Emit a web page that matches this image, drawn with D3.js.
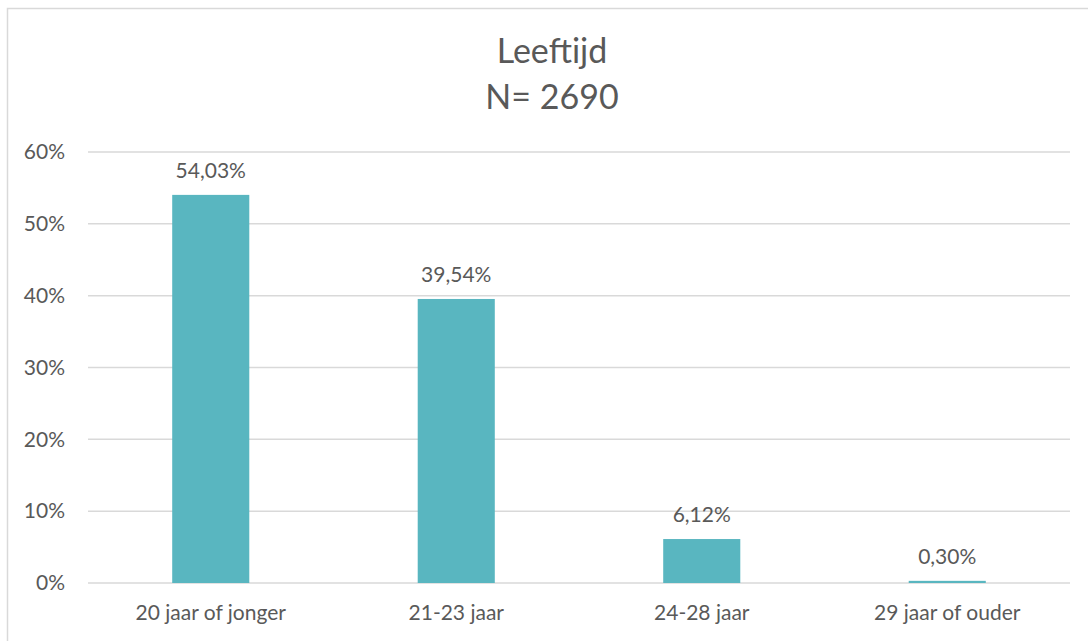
<!DOCTYPE html>
<html><head><meta charset="utf-8">
<script src="https://cdn.jsdelivr.net/npm/d3@7"></script>
<style>
html,body{margin:0;padding:0;background:#fff;}
svg text{font-family:Lato,"Open Sans",sans-serif;fill:#595959;}
</style></head>
<body><svg id="c" width="1088" height="641"></svg>
<script>
const categories = ["20 jaar of jonger","21-23 jaar","24-28 jaar","29 jaar of ouder"];
const values = [54.03, 39.54, 6.12, 0.30];
const valueLabels = ["54,03%","39,54%","6,12%","0,30%"];
const yTicks = [0,10,20,30,40,50,60];
const titleLines = ["Leeftijd","N= 2690"];

const svg = d3.select("#c");
const W=1088,H=641;
svg.append("rect").attr("x",7.5).attr("y",8.5).attr("width",W+20).attr("height",H+20)
  .attr("fill","#fff").attr("stroke","#d9d9d9").attr("stroke-width",1.5);

const m={l:88,r:1070,t:152,b:583};
const x=d3.scaleBand().domain(categories).range([m.l,m.r]).padding(0);
const y=d3.scaleLinear().domain([0,60]).range([m.b,m.t]);

const g=svg.append("g");
g.selectAll("line.grid").data(yTicks).join("line").attr("class","grid")
  .attr("x1",m.l).attr("x2",m.r).attr("y1",d=>y(d)).attr("y2",d=>y(d))
  .attr("stroke","#d9d9d9").attr("stroke-width",1.5);

const fs=21;
const yAxis=d3.axisLeft(y).tickValues(yTicks).tickFormat(d=>d+"%").tickSize(0).tickPadding(0);
const ya=svg.append("g").attr("transform",`translate(65,0)`).call(yAxis);
ya.select(".domain").remove();
ya.selectAll("text").attr("font-size",fs).style("fill","#595959").attr("font-family","Lato");

const bw=x.bandwidth()*0.314;
g.selectAll("rect.bar").data(values).join("rect").attr("class","bar")
  .attr("x",(d,i)=>x(categories[i])+x.bandwidth()/2-bw/2)
  .attr("width",bw)
  .attr("y",d=>y(d)).attr("height",d=>Math.max(0,y(0)-y(d)))
  .attr("fill",(d,i)=>"#59b6c0");

g.selectAll("text.vl").data(values).join("text").attr("class","vl")
  .attr("x",(d,i)=>x(categories[i])+x.bandwidth()/2)
  .attr("y",d=>y(d)-17).attr("text-anchor","middle").attr("font-size",fs)
  .text((d,i)=>valueLabels[i]);

const xAxis=d3.axisBottom(x).tickSize(0).tickPadding(0);
const xa=svg.append("g").attr("transform",`translate(0,${m.b})`).call(xAxis);
xa.select(".domain").remove();
xa.selectAll("text").attr("font-size",fs).attr("dy",0).attr("y",37).style("fill","#595959").attr("font-family","Lato");

svg.selectAll("text.title").data(titleLines).join("text").attr("class","title")
  .attr("x",552).attr("y",(d,i)=>63+i*46).attr("text-anchor","middle")
  .attr("font-size",34).text(d=>d);
</script></body></html>
